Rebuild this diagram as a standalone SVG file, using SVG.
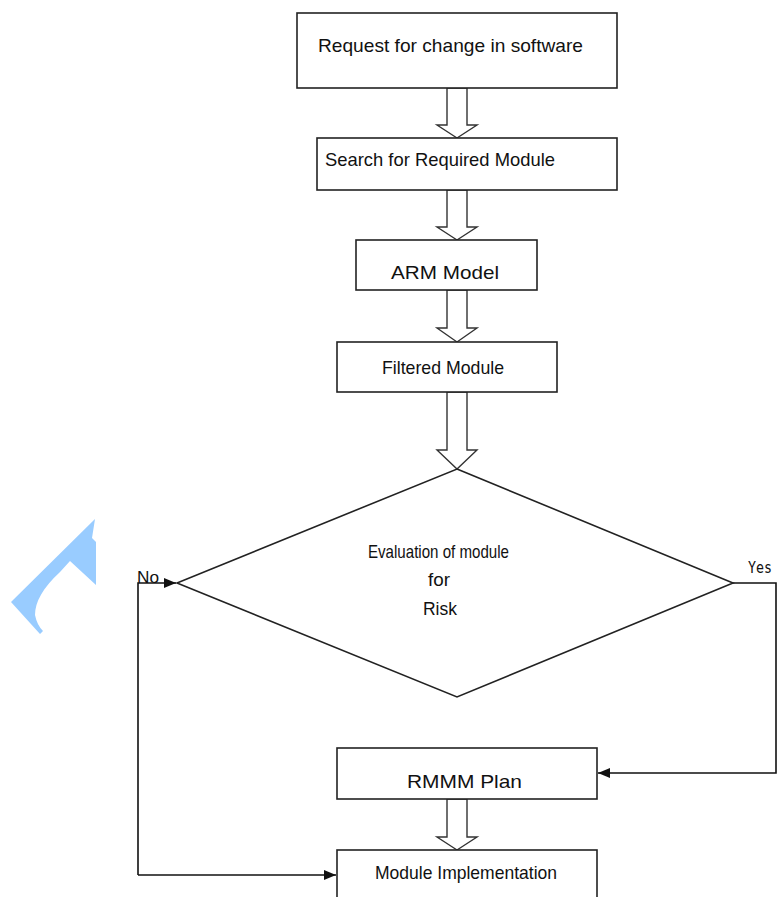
<svg xmlns="http://www.w3.org/2000/svg" width="780" height="897" viewBox="0 0 780 897">
<style>
.box{fill:#fff;stroke:#222;stroke-width:1.6}
.blk{fill:#fff;stroke:#333;stroke-width:1.4;stroke-linejoin:miter}
.t{font-family:"Liberation Sans",Arial,sans-serif;font-size:19px;fill:#111}
.ln{fill:none;stroke:#111;stroke-width:1.6}
</style>
<defs>
<marker id="ah" viewBox="0 0 12 10" refX="12" refY="5" markerWidth="12" markerHeight="10" markerUnits="userSpaceOnUse" orient="auto">
<path d="M0,0 L12,5 L0,10 Z" fill="#111"/>
</marker>
</defs>
<rect width="780" height="897" fill="#fff"/>
<path d="M95,519 L92,538 L96,542 L96,585 L70,561 L60,572 Q35,595 35,615 Q37,625 43,631 L40,634 L11,602 Z" fill="#99ccff"/>
<g id="connectors">
<polygon class="blk" points="447,88 447,125 437,125 457,138 477,125 467,125 467,88"/>
<polygon class="blk" points="447,190 447,227 437,227 457,240 477,227 467,227 467,190"/>
<polygon class="blk" points="447,290 447,328 437,328 457,342 477,328 467,328 467,290"/>
<polygon class="blk" points="447,392 447,450 437,450 457,469 477,450 467,450 467,392"/>
<polygon class="blk" points="447,799 447,837 437,837 457,850 477,837 467,837 467,799"/>
<polyline class="ln" points="138,875 138,583 176,583" marker-end="url(#ah)"/>
<polyline class="ln" points="138,875 336,875" marker-end="url(#ah)"/>
<polyline class="ln" points="733,583 776,583 776,773 598,773" marker-end="url(#ah)"/>
<text class="t" x="137" y="583" textLength="22" lengthAdjust="spacingAndGlyphs" style="font-size:17px">No</text>
<text class="t" x="748" y="573" textLength="24" lengthAdjust="spacingAndGlyphs" style="font-family:'DejaVu Sans Mono',monospace;font-size:16px">Yes</text>
</g>
<g id="n1">
<rect class="box" x="297" y="13" width="320" height="75"/>
<text class="t" x="318" y="52" textLength="265" lengthAdjust="spacingAndGlyphs">Request for change in software</text>
</g>
<g id="n2">
<rect class="box" x="317" y="138" width="300" height="52"/>
<text class="t" x="325" y="166" textLength="230" lengthAdjust="spacingAndGlyphs">Search for Required Module</text>
</g>
<g id="n3">
<rect class="box" x="356" y="240" width="181" height="50"/>
<text class="t" x="391" y="279" textLength="108" lengthAdjust="spacingAndGlyphs">ARM Model</text>
</g>
<g id="n4">
<rect class="box" x="337" y="342" width="220" height="50"/>
<text class="t" x="382" y="374" textLength="122" lengthAdjust="spacingAndGlyphs">Filtered Module</text>
</g>
<g id="n5">
<polygon class="box" points="457,469 733,583 457,697 177,583"/>
<text class="t" x="368" y="558" textLength="141" lengthAdjust="spacingAndGlyphs">Evaluation of module</text>
<text class="t" x="428" y="586" textLength="22" lengthAdjust="spacingAndGlyphs">for</text>
<text class="t" x="423" y="615" textLength="34" lengthAdjust="spacingAndGlyphs">Risk</text>
</g>
<g id="n6">
<rect class="box" x="337" y="748" width="260" height="51"/>
<text class="t" x="407" y="788" textLength="115" lengthAdjust="spacingAndGlyphs">RMMM Plan</text>
</g>
<g id="n7">
<rect class="box" x="337" y="850" width="260" height="60"/>
<text class="t" x="375" y="879" textLength="182" lengthAdjust="spacingAndGlyphs">Module Implementation</text>
</g>
</svg>
